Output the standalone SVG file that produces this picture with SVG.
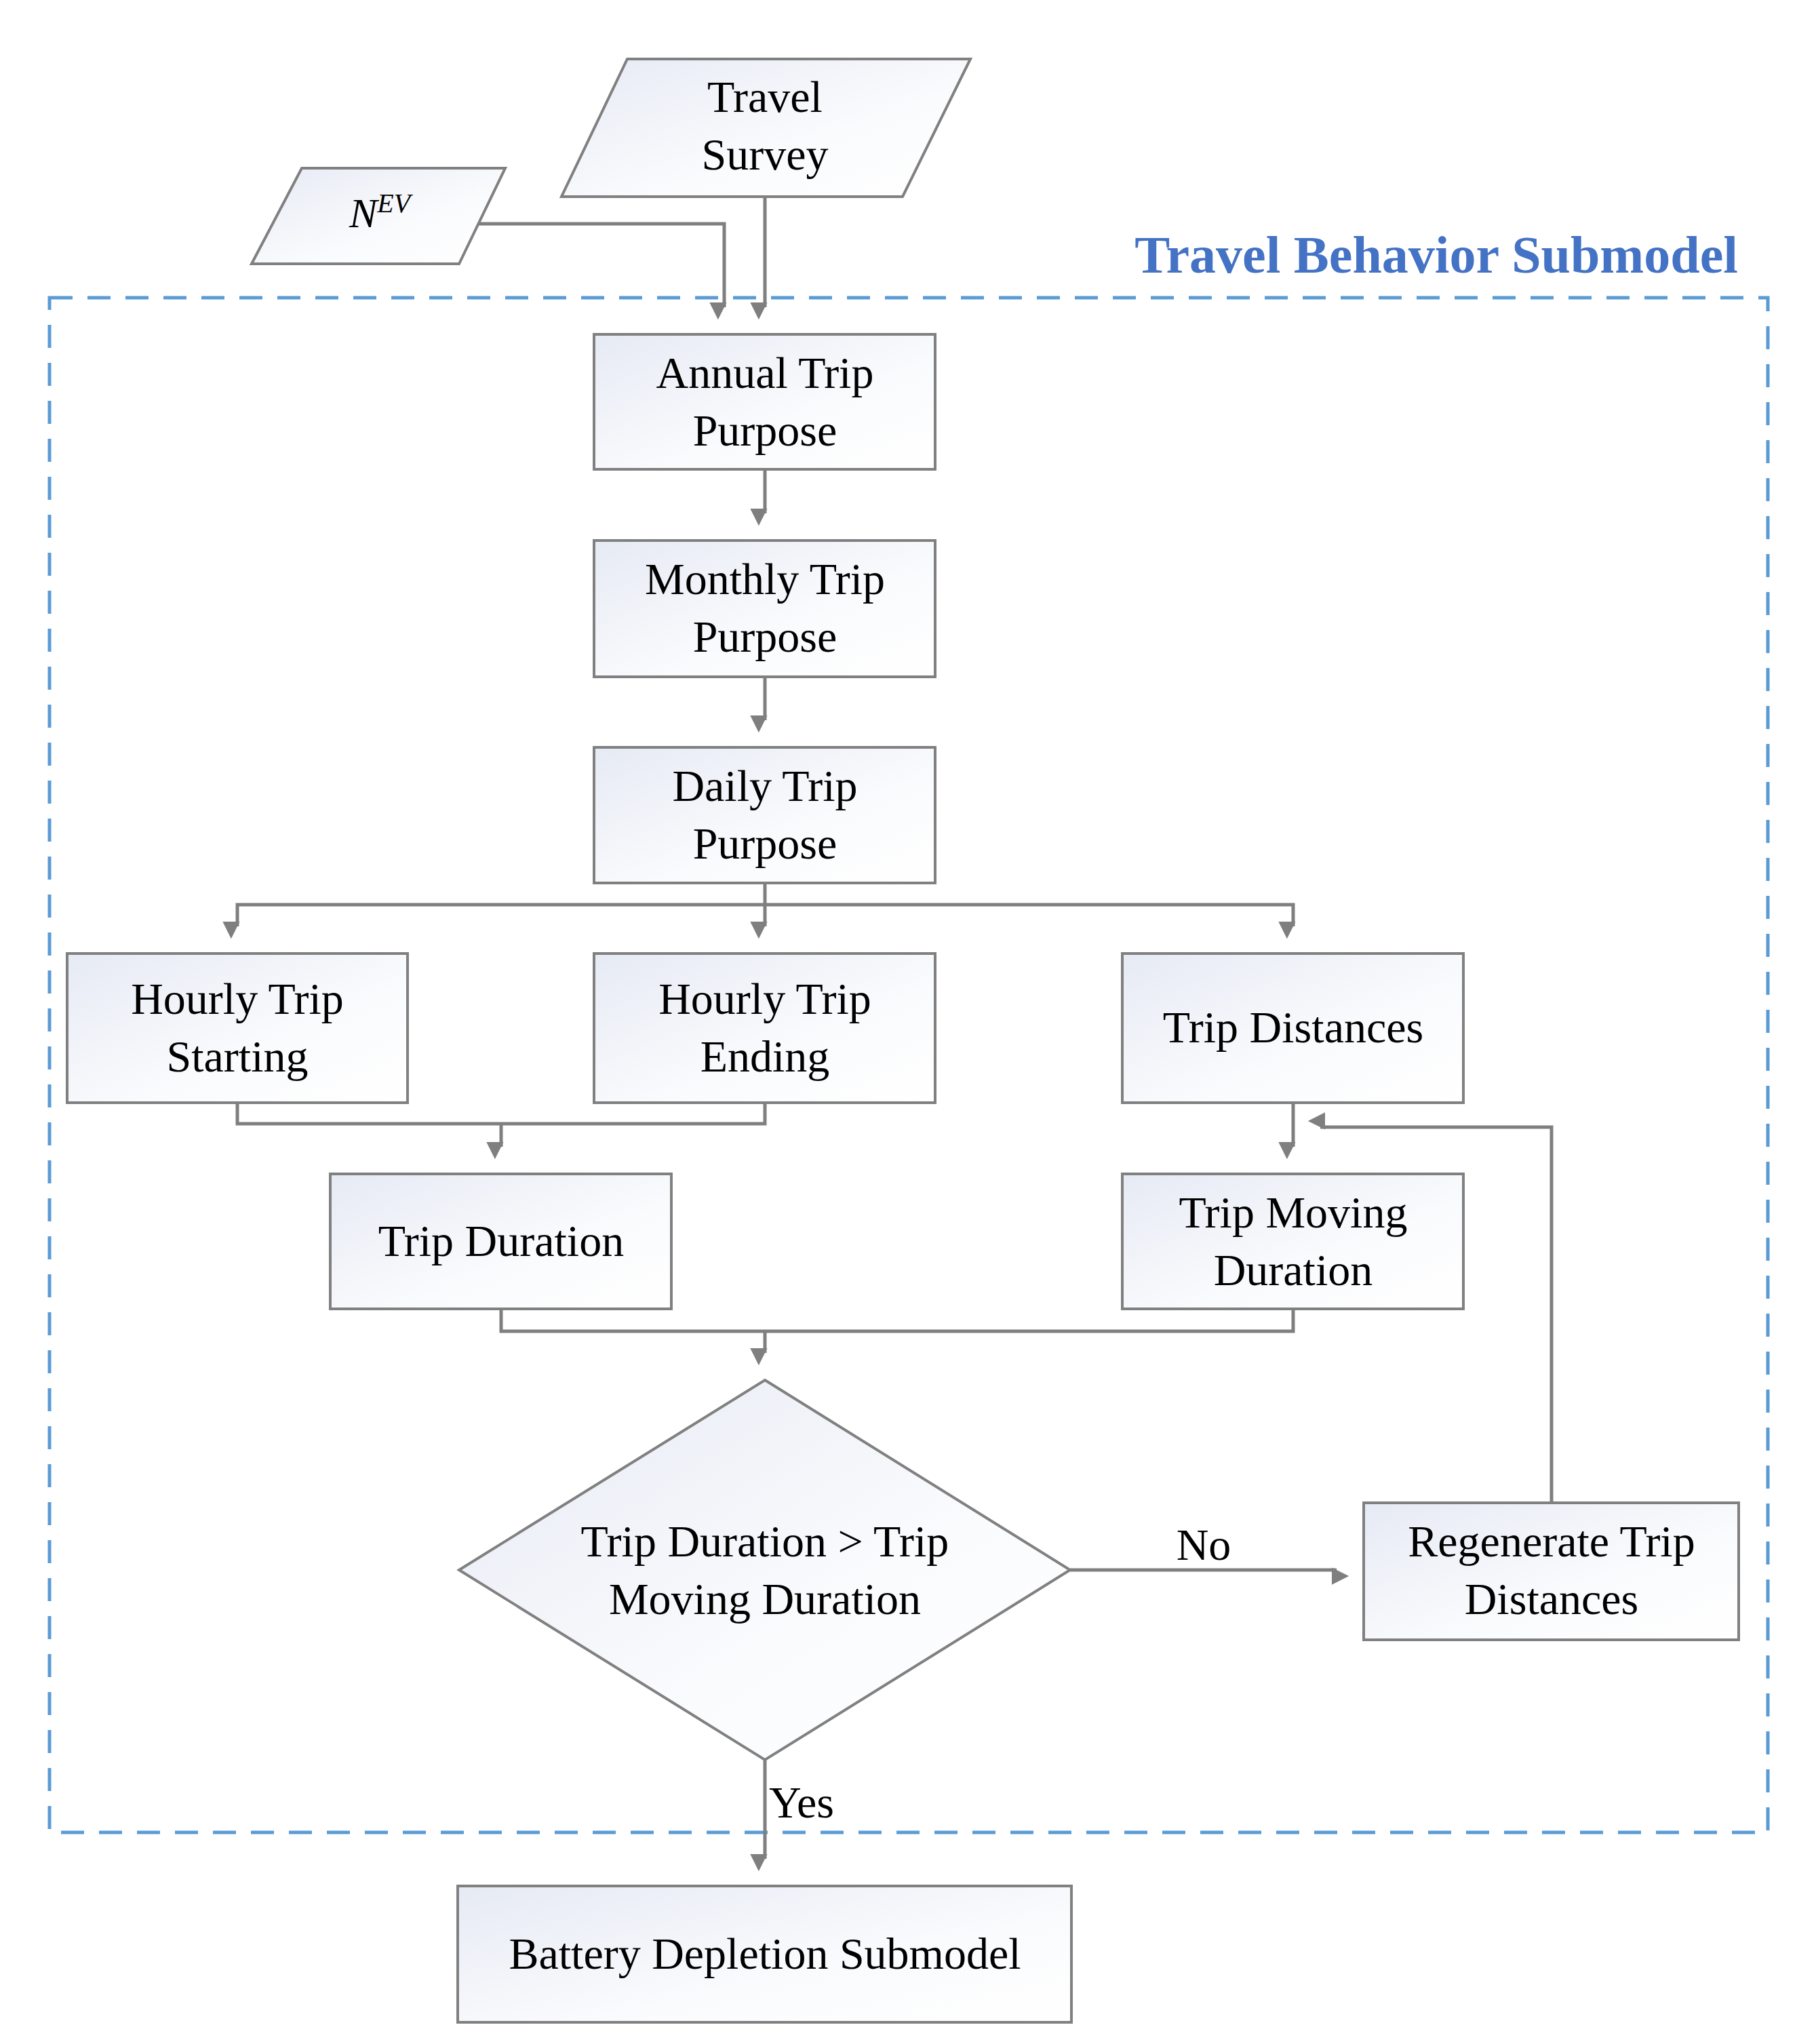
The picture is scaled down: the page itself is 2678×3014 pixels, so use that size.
<svg xmlns="http://www.w3.org/2000/svg" width="2678" height="3014" viewBox="0 0 2678 3014">
<style>
.n{fill:url(#g);stroke:#808080;stroke-width:4}
.t{font-family:"Liberation Serif",serif;font-size:66px;fill:#000;text-anchor:middle}
.c{fill:none;stroke:#7f7f7f;stroke-width:5}
</style>
<defs>
<linearGradient id="g" x1="0" y1="0" x2="1" y2="1"><stop offset="0" stop-color="#e6eaf4"/><stop offset="0.6" stop-color="#fafbfd"/><stop offset="1" stop-color="#ffffff"/></linearGradient>
<marker id="a" viewBox="0 0 10 10" refX="10" refY="5" markerWidth="7" markerHeight="7" markerUnits="userSpaceOnUse" orient="auto" style="overflow:visible"><path d="M0,0L10,5L0,10z" fill="#7f7f7f" transform="scale(3.6)" /></marker>
</defs>
<rect width="2678" height="3014" fill="#fff"/>
<rect x="73" y="439" width="2534" height="2263" fill="none" stroke="#5b9bd5" stroke-width="5" stroke-dasharray="34,22"/>
<text x="2563" y="402" font-family="Liberation Serif,serif" font-weight="bold" font-size="78" fill="#4472c4" text-anchor="end">Travel Behavior Submodel</text>
<g id="connectors">
<path class="c" d="M1128,290V453" marker-end="url(#a)"/>
<path class="c" d="M705,330H1068V453" marker-end="url(#a)"/>
<path class="c" d="M1128,692V757" marker-end="url(#a)"/>
<path class="c" d="M1128,998V1062" marker-end="url(#a)"/>
<path class="c" d="M1128,1302V1366" marker-end="url(#a)"/>
<path class="c" d="M1128,1334H350V1366" marker-end="url(#a)"/>
<path class="c" d="M1128,1334H1907V1366" marker-end="url(#a)"/>
<path class="c" d="M350,1626V1657H1128V1626"/>
<path class="c" d="M739,1657V1691" marker-end="url(#a)"/>
<path class="c" d="M1907,1626V1691" marker-end="url(#a)"/>
<path class="c" d="M2288,2216V1662H1947" marker-end="url(#a)"/>
<path class="c" d="M739,1930V1963H1907V1930"/>
<path class="c" d="M1128,1963V1995" marker-end="url(#a)"/>
<path class="c" d="M1578,2315H1971" marker-end="url(#a)"/>
<path class="c" d="M1128,2595V2741" marker-end="url(#a)"/>
</g>
<text class="t" x="1775" y="2300" font-size="60">No</text>
<text class="t" x="1182" y="2680" font-size="60">Yes</text>
<g id="survey"><path class="n" d="M925,87H1431L1331,290H828z"/><text class="t"><tspan x="1128" y="165">Travel</tspan><tspan x="1128" y="250">Survey</tspan></text></g>
<g id="nev"><path class="n" d="M445,248H745L677,389H371z"/><text x="560" y="335" font-family="Liberation Serif,serif" font-style="italic" font-size="62" text-anchor="middle">N<tspan font-size="40" dy="-22">EV</tspan></text></g>
<g id="annual"><rect class="n" x="876" y="493" width="503" height="199"/><text class="t"><tspan x="1128" y="572">Annual Trip</tspan><tspan x="1128" y="657">Purpose</tspan></text></g>
<g id="monthly"><rect class="n" x="876" y="797" width="503" height="201"/><text class="t"><tspan x="1128" y="876">Monthly Trip</tspan><tspan x="1128" y="961">Purpose</tspan></text></g>
<g id="daily"><rect class="n" x="876" y="1102" width="503" height="200"/><text class="t"><tspan x="1128" y="1181">Daily Trip</tspan><tspan x="1128" y="1266">Purpose</tspan></text></g>
<g id="hstart"><rect class="n" x="99" y="1406" width="502" height="220"/><text class="t"><tspan x="350" y="1495">Hourly Trip</tspan><tspan x="350" y="1580">Starting</tspan></text></g>
<g id="hend"><rect class="n" x="876" y="1406" width="503" height="220"/><text class="t"><tspan x="1128" y="1495">Hourly Trip</tspan><tspan x="1128" y="1580">Ending</tspan></text></g>
<g id="tdist"><rect class="n" x="1655" y="1406" width="503" height="220"/><text class="t" x="1907" y="1537">Trip Distances</text></g>
<g id="tdur"><rect class="n" x="487" y="1731" width="503" height="199"/><text class="t" x="739" y="1852">Trip Duration</text></g>
<g id="tmove"><rect class="n" x="1655" y="1731" width="503" height="199"/><text class="t"><tspan x="1907" y="1810">Trip Moving</tspan><tspan x="1907" y="1895">Duration</tspan></text></g>
<g id="decision"><path class="n" d="M1128,2035L1578,2315L1128,2595L677,2315z"/><text class="t"><tspan x="1128" y="2295">Trip Duration &gt; Trip</tspan><tspan x="1128" y="2380">Moving Duration</tspan></text></g>
<g id="regen"><rect class="n" x="2011" y="2216" width="553" height="202"/><text class="t"><tspan x="2288" y="2295">Regenerate Trip</tspan><tspan x="2288" y="2380">Distances</tspan></text></g>
<g id="battery"><rect class="n" x="675" y="2781" width="905" height="201"/><text class="t" x="1128" y="2903">Battery Depletion Submodel</text></g>
</svg>
